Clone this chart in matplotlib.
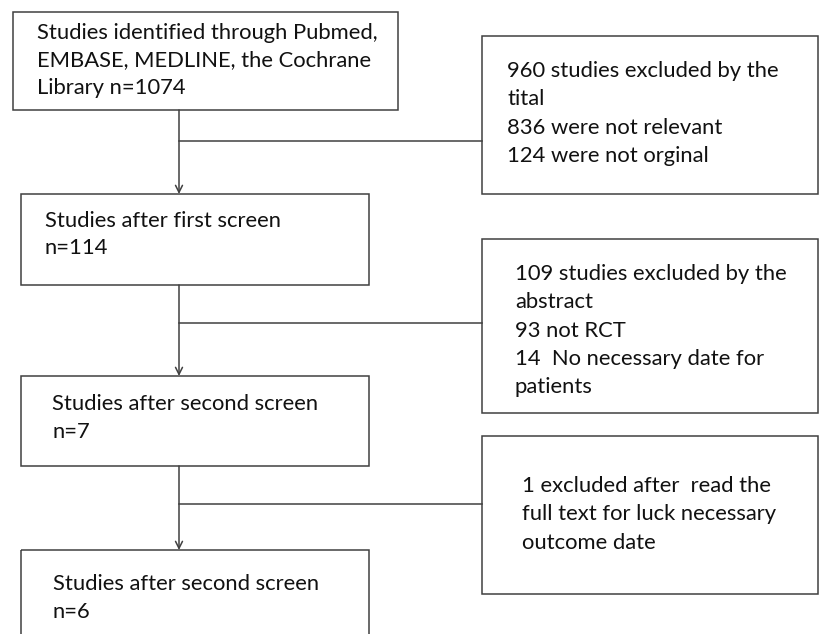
import matplotlib.pyplot as plt
from matplotlib.patches import Rectangle

# flow chart text, one list of lines per box
main_boxes = [
    ["Studies identified through Pubmed,", "EMBASE, MEDLINE, the Cochrane", "Library n=1074"],
    ["Studies after first screen", "n=114"],
    ["Studies after second screen", "n=7"],
    ["Studies after second screen", "n=6"],
]
side_boxes = [
    ["960 studies excluded by the", "tital", "836 were not relevant", "124 were not orginal"],
    ["109 studies excluded by the", "abstract", "93 not RCT", "14  No necessary date for", "patients"],
    ["1 excluded after  read the", "full text for luck necessary", "outcome date"],
]

# layout in pixel coordinates (y downwards)
main_rects = [(13, 12, 398, 110), (21, 194, 369, 285), (21, 376, 369, 466), (21, 550, 369, 660)]
main_text = [(37, 33), (45, 221), (52, 404), (53, 584)]
side_rects = [(482, 36, 818, 194), (482, 239, 818, 413), (482, 436, 818, 594)]
side_text = [(507, 71), (515, 274), (522, 486)]
branch_y = [141, 323, 504]
stem_x = 179
line_gap = 28.3

col = '#404040'
fs = 15.8
fam = 'Lato'

fig = plt.figure(figsize=(8.19, 6.34), dpi=100)
ax = fig.add_axes([0, 0, 1, 1])
ax.set_xlim(0, 819)
ax.set_ylim(634, 0)
ax.axis('off')

def box(r):
    x0, y0, x1, y1 = r
    ax.add_patch(Rectangle((x0, y0), x1 - x0, y1 - y0, fill=False, ec=col, lw=1.1))

def write(lines, pos, gap):
    x, y = pos
    for i, s in enumerate(lines):
        ax.text(x, y + i * gap, s, fontsize=fs, family=fam, color='#111111', ha='left', va='center')

for i, lines in enumerate(main_boxes):
    box(main_rects[i])
    write(lines, main_text[i], 27.5)

for i, lines in enumerate(side_boxes):
    box(side_rects[i])
    write(lines, side_text[i], line_gap)

for i in range(3):
    top = main_rects[i][3]
    bottom = main_rects[i + 1][1]
    ax.annotate('', xy=(stem_x, bottom), xytext=(stem_x, top),
                arrowprops=dict(arrowstyle='->,head_length=0.5,head_width=0.25', color=col, lw=1.1,
                                shrinkA=0, shrinkB=0))
    ax.plot([stem_x, side_rects[i][0]], [branch_y[i], branch_y[i]], color=col, lw=1.1)

fig.savefig('out.png', dpi=100)
